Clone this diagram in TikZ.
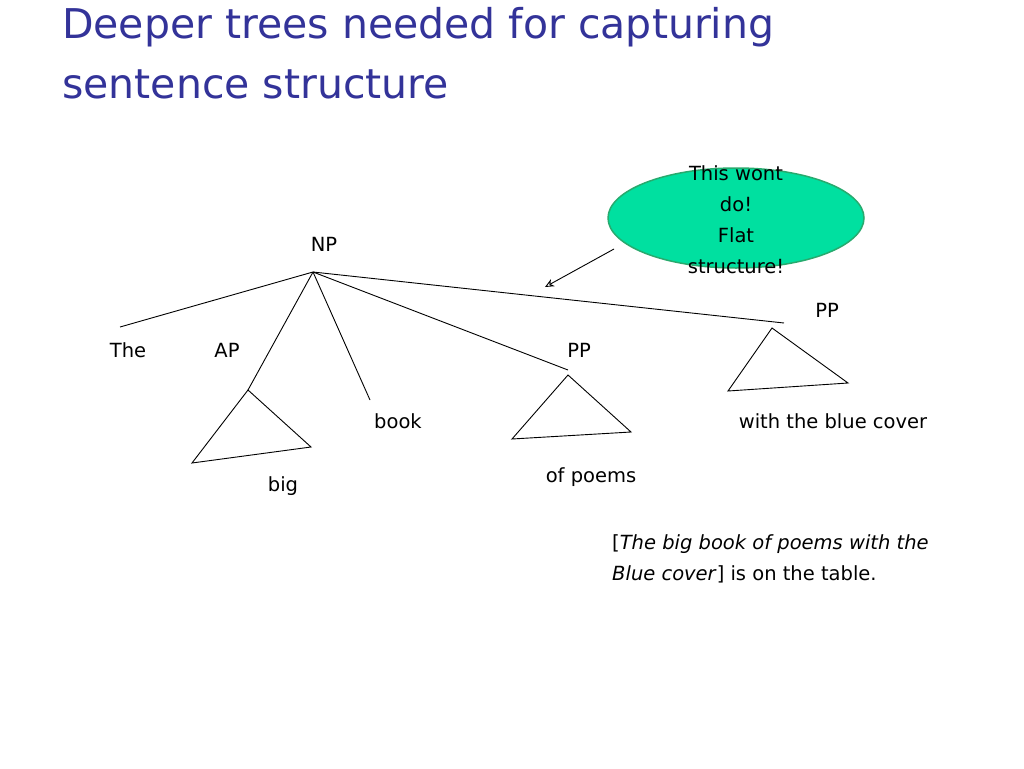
\documentclass[tikz,border=0pt]{standalone}
\usepackage{fontspec}
\setmainfont{DejaVu Sans}
\usetikzlibrary{shapes.geometric,arrows.meta}
\begin{document}
\begin{tikzpicture}[x=1pt,y=-1pt,
  lbl/.style={font=\fontsize{19.5}{31}\selectfont,inner sep=0pt},
  ln/.style={line width=0.9pt}]
\useasboundingbox (0,0) rectangle (1024,768);
\definecolor{tblue}{RGB}{51,51,153}
\definecolor{eg}{RGB}{0,224,160}
\definecolor{egb}{RGB}{40,170,110}
\node[anchor=base west,inner sep=0pt,text=tblue,font=\fontsize{41}{60}\selectfont,align=left] (title) at (62,38) {Deeper trees needed for capturing};
\node[anchor=base west,inner sep=0pt,text=tblue,font=\fontsize{41}{60}\selectfont] (title2) at (62,98) {sentence structure};
\node[lbl] (np) at (324,244) {NP};
\coordinate (npb) at (313,272);
\coordinate (the) at (120,327);
\coordinate (apx) at (248,390);
\coordinate (bk) at (370,400);
\coordinate (pp1) at (568,370);
\coordinate (pp2) at (784,323);
\draw[ln] (npb) -- (the);
\draw[ln] (npb) -- (apx);
\draw[ln] (npb) -- (bk);
\draw[ln] (npb) -- (pp1);
\draw[ln] (npb) -- (pp2);
\draw[ln] (apx) -- (192,463) -- (311,447) -- cycle;
\draw[ln] (568,375) -- (512,439) -- (631,432) -- cycle;
\draw[ln] (772,328) -- (728,391) -- (848,383) -- cycle;
\node[lbl] (l1) at (128,350) {The};
\node[lbl] (l2) at (227,350) {AP};
\node[lbl] (l3) at (398,421) {book};
\node[lbl] (l4) at (283,486) {big};
\node[lbl] (l5) at (579,350) {PP};
\node[lbl] (l6) at (591,477) {of poems};
\node[lbl] (l7) at (827,310) {PP};
\node[lbl] (l8) at (833,421) {with the blue cover};
\node[ellipse,draw=egb,fill=eg,line width=1.5pt,minimum width=256pt,minimum height=100pt,inner sep=0pt] (ell) at (736,218) {};
\node[lbl,align=center] (etx) at (736,220) {This wont\\do!\\Flat\\structure!};
\coordinate (at) at (545,287);
\draw[ln,-{Stealth[open,length=9pt,width=8pt]}] (614,249) -- (at);
\node[lbl,anchor=base west,align=left] (s1) at (612,549) {[\textit{The big book of poems with the}};
\node[lbl,anchor=base west,align=left] (s2) at (612,580) {\textit{Blue cover}] is on the table.};
\end{tikzpicture}
\end{document}
